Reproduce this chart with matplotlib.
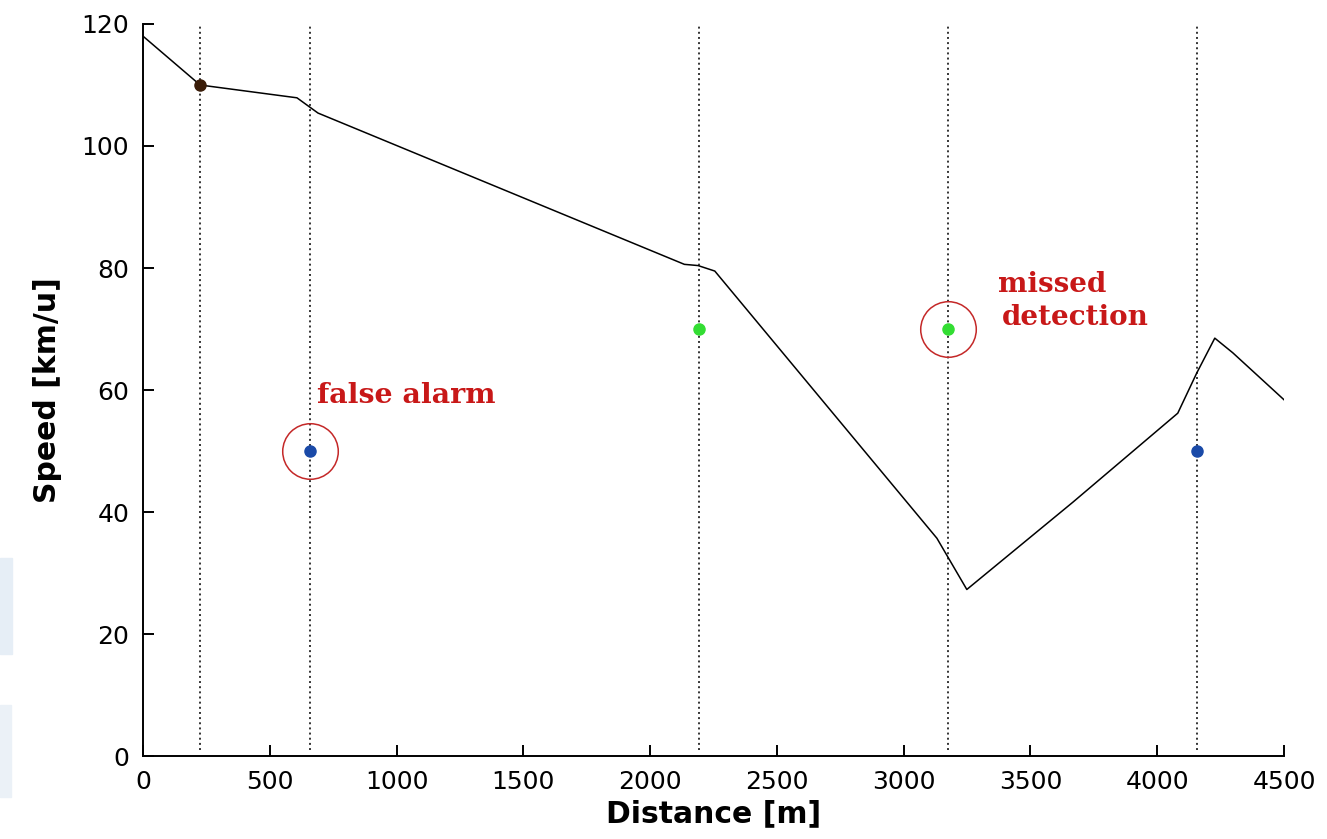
import matplotlib.pyplot as plt
from matplotlib.patches import Rectangle

# speed profile along the road
distance = [0, 225, 607, 690, 2135, 2189, 2255, 3131, 3249, 3667, 4081, 4156, 4227, 4298, 4424, 4500]
speed = [118, 110, 107.9, 105.4, 80.6, 80.4, 79.5, 35.7, 27.3, 41.6, 56.2, 62.8, 68.5, 66.1, 61.3, 58.4]

# detected signs
sign_pos = [225, 658, 2192, 3174, 4156]
sign_speed = [110, 50, 70, 70, 50]
sign_colors = ['#3a1c08', '#1a4aa8', '#33dd33', '#33dd33', '#1a4aa8']

# annotated errors
err_pos = [658, 3174]
err_speed = [50, 70]

xticks = [0, 500, 1000, 1500, 2000, 2500, 3000, 3500, 4000, 4500]
yticks = [0, 20, 40, 60, 80, 100, 120]

fig = plt.figure(figsize=(13.27, 8.39), dpi=100)
ax = fig.add_axes([0.1078, 0.0989, 0.8598, 0.8725])

# faint slide background remains on the left edge
fig.patches.append(Rectangle((0, 0.22), 0.009, 0.115, transform=fig.transFigure,
                             color='#e6eef6', zorder=0))
fig.patches.append(Rectangle((0, 0.05), 0.008, 0.11, transform=fig.transFigure,
                             color='#ebf1f7', zorder=0))

for x in sign_pos:
    ax.plot([x, x], [1, 120], color='0.2', linestyle=':', linewidth=1.4, zorder=1)

ax.plot(distance, speed, color='black', linewidth=1.1, zorder=2)

for x, y, c in zip(sign_pos, sign_speed, sign_colors):
    ax.plot(x, y, marker='o', markersize=8, color=c, linestyle='none', zorder=3)

ax.plot(err_pos, err_speed, marker='o', markersize=40, markerfacecolor='none',
        markeredgecolor='#c42828', markeredgewidth=1.1, linestyle='none', zorder=3)

red = '#c81818'
ax.text(686, 57.9, 'false alarm', color=red, family='DejaVu Serif',
        fontweight='bold', fontsize=20.5, va='baseline')
ax.text(3371, 76.1, 'missed', color=red, family='DejaVu Serif',
        fontweight='bold', fontsize=20, va='baseline')
ax.text(3387, 70.7, 'detection', color=red, family='DejaVu Serif',
        fontweight='bold', fontsize=20, va='baseline')

ax.set_xlim(0, 4500)
ax.set_ylim(0, 120)
ax.set_xticks(xticks)
ax.set_yticks(yticks)
ax.spines['top'].set_visible(False)
ax.spines['right'].set_visible(False)
ax.spines['left'].set_linewidth(1.4)
ax.spines['bottom'].set_linewidth(1.4)
ax.tick_params(direction='in', length=8, width=1.4, labelsize=18, pad=10)

ax.set_xlabel('Distance [m]', fontsize=21.5, fontweight='bold', labelpad=4)
ax.set_ylabel('Speed [km/u]', fontsize=21.5, fontweight='bold', labelpad=14)

fig.savefig('out.png', dpi=100)
